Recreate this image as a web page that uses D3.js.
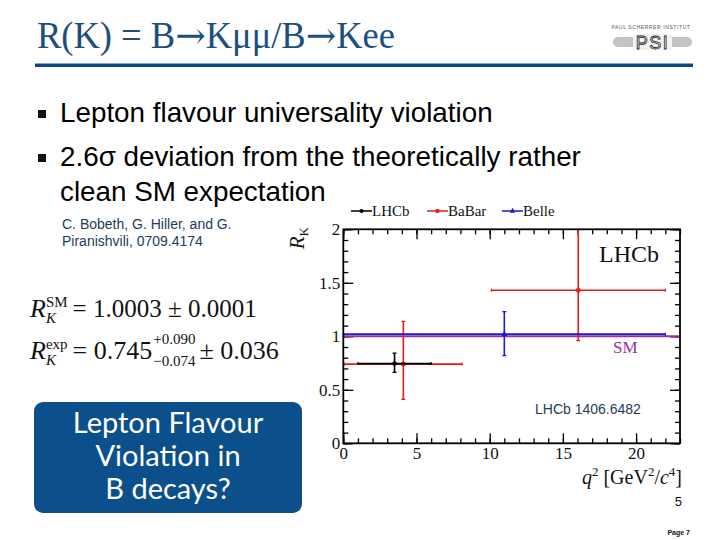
<!DOCTYPE html>
<html><head><meta charset="utf-8">
<script src="https://cdn.jsdelivr.net/npm/d3@7"></script>
<style>body{margin:0;background:#fff}svg{display:block}</style>
</head><body>
<svg id="c" width="720" height="540"></svg>
<script>
// ---------- data ----------
const seriesNames = ["LHCb", "BaBar", "Belle"];
const lhcbBins   = [[1, 6]];
const lhcbCentre = [3.5];
const lhcbRK     = [0.745];
const lhcbErrUp  = [0.097];
const lhcbErrDn  = [0.082];

const babarBins   = [[0.1, 8.12], [10.11, 22]];
const babarCentre = [4.1, 16.05];
const babarRK     = [0.74, 1.43];
const babarErrUp  = [0.40, 0.65];
const babarErrDn  = [0.33, 0.47];

const belleBins   = [[0, 22]];
const belleCentre = [11];
const belleRK     = [1.02];
const belleErrUp  = [0.21];
const belleErrDn  = [0.20];

const smRK = 1.0003;

const xMajorTicks = [0, 5, 10, 15, 20];
const xTickLabels = ["0", "5", "10", "15", "20"];
const yMajorTicks = [0, 0.5, 1, 1.5, 2];
const yTickLabels = ["0", "0.5", "1", "1.5", "2"];
const xMinorTicks = d3.range(0, 24, 1);
const yMinorTicks = d3.range(0, 21, 1).map(d => d / 10);

// ---------- styles ----------
const seriesColors = {LHCb: "#000000", BaBar: "#e41b1b", Belle: "#1b1bd0"};
const smColor = "#9a2fa0";
const navy = "#0c4a80";
const serif = "'Liberation Serif','Times New Roman',serif";
const sans = "'Liberation Sans',Arial,sans-serif";

const svg = d3.select("#c");
svg.append("rect").attr("width", 720).attr("height", 540).attr("fill", "#fff");

// ---------- slide header ----------
const title = svg.append("text").attr("x", 37).attr("y", 48)
  .attr("font-family", serif).attr("font-size", 37).attr("fill", "#1d4f7c")
  .attr("textLength", 358).attr("lengthAdjust", "spacingAndGlyphs");
[["R(K) = B", serif], ["→", "'DejaVu Serif',serif"], ["Kμμ/B", serif], ["→", "'DejaVu Serif',serif"], ["Kee", serif]]
  .forEach(([t, f]) => title.append("tspan").attr("font-family", f).text(t));
svg.append("rect").attr("x", 35).attr("y", 63.5).attr("width", 658).attr("height", 3.5).attr("fill", navy);

// PSI logo (approximate)
const logo = svg.append("g");
logo.append("text").attr("x", 651).attr("y", 29).attr("text-anchor", "middle")
  .attr("font-family", sans).attr("font-size", 5).attr("fill", "#555").attr("letter-spacing", 0.6)
  .text("PAUL SCHERRER INSTITUT");
logo.append("rect").attr("x", 613).attr("y", 37).attr("width", 79).attr("height", 10).attr("rx", 5).attr("fill", "#c4c4c4");
logo.append("rect").attr("x", 633).attr("y", 34).attr("width", 39).attr("height", 16).attr("fill", "#f2f2f2");
logo.append("text").attr("x", 652.5).attr("y", 48.5).attr("text-anchor", "middle")
  .attr("font-family", sans).attr("font-size", 18).attr("letter-spacing", 1.5)
  .attr("fill", "#f2f2f2").attr("stroke", "#222").attr("stroke-width", 0.8).text("PSI");

// ---------- bullets ----------
const bullets = [
  {y: 122, lines: ["Lepton flavour universality violation"]},
  {y: 166, lines: ["2.6σ deviation from the theoretically rather", "clean SM expectation"]}
];
bullets.forEach(b => {
  svg.append("rect").attr("x", 38).attr("y", b.y - 12).attr("width", 8).attr("height", 8).attr("fill", "#111");
  b.lines.forEach((l, i) => {
    svg.append("text").attr("x", 60).attr("y", b.y + i * 35)
      .attr("font-family", sans).attr("font-size", 27.8).attr("fill", "#000").text(l);
  });
});

// citation
["C. Bobeth, G. Hiller, and G.", "Piranishvili, 0709.4174"].forEach((l, i) => {
  svg.append("text").attr("x", 62).attr("y", 229 + i * 17)
    .attr("font-family", sans).attr("font-size", 14).attr("fill", "#1e3c58").text(l);
});

// ---------- formulas ----------
function formula(x0, y0, pieces) {
  let x = x0;
  pieces.forEach(p => {
    if (p.stack) {
      let w = 0;
      p.stack.forEach(s => {
        const t = svg.append("text").attr("x", x).attr("y", y0 + s.dy)
          .attr("font-family", serif).attr("font-size", s.size).attr("fill", "#111").text(s.t);
        if (s.italic) t.attr("font-style", "italic");
        w = Math.max(w, t.node().getComputedTextLength());
      });
      x += w + (p.gap || 0);
    } else {
      const t = svg.append("text").attr("x", x).attr("y", y0).attr("font-family", serif)
        .attr("font-size", p.size).attr("fill", "#111").text(p.t);
      if (p.italic) t.attr("font-style", "italic");
      x += t.node().getComputedTextLength() + (p.gap || 0);
    }
  });
}
formula(30, 317, [
  {t: "R", size: 26, italic: true, gap: 0},
  {stack: [{t: "SM", size: 15, dy: -10}, {t: "K", size: 15, dy: 6, italic: true}], gap: 5},
  {t: "= 1.0003 ± 0.0001", size: 25}
]);
formula(30, 359, [
  {t: "R", size: 26, italic: true, gap: 0},
  {stack: [{t: "exp", size: 15, dy: -10}, {t: "K", size: 15, dy: 6, italic: true}], gap: 5},
  {t: "= 0.745", size: 26, gap: 1},
  {stack: [{t: "+0.090", size: 15, dy: -15}, {t: "−0.074", size: 15, dy: 7}], gap: 4},
  {t: "± 0.036", size: 26}
]);

// ---------- blue box ----------
svg.append("rect").attr("x", 34).attr("y", 402).attr("width", 268).attr("height", 111)
  .attr("rx", 9).attr("fill", "#0b4f8b");
["Lepton Flavour", "Violation in", "B decays?"].forEach((l, i) => {
  svg.append("text").attr("x", 168).attr("y", 433 + i * 33).attr("text-anchor", "middle")
    .attr("font-family", "Lato,'Open Sans',sans-serif").attr("font-size", 29).attr("fill", "#fff").text(l);
});

// ---------- chart ----------
const x0 = 343.3, x1 = 680, yTop = 229.3, yBot = 443.3;
const x = d3.scaleLinear().domain([0, 23]).range([x0, x1]);
const y = d3.scaleLinear().domain([0, 2]).range([yBot, yTop]);

svg.append("defs").append("clipPath").attr("id", "plotclip")
  .append("rect").attr("x", x0).attr("y", yTop).attr("width", x1 - x0).attr("height", yBot - yTop);

const axisStyle = g => {
  g.select(".domain").remove();
  g.selectAll("line").attr("stroke", "#000").attr("stroke-width", 1.3);
  g.selectAll("text").attr("font-family", serif).attr("font-size", 17).attr("fill", "#111");
};
// minor ticks
svg.append("g").attr("transform", `translate(0,${yBot})`)
  .call(d3.axisBottom(x).tickValues(xMinorTicks).tickSize(-5).tickFormat("")).call(axisStyle);
svg.append("g").attr("transform", `translate(0,${yTop})`)
  .call(d3.axisTop(x).tickValues(xMinorTicks).tickSize(-5).tickFormat("")).call(axisStyle);
svg.append("g").attr("transform", `translate(${x0},0)`)
  .call(d3.axisLeft(y).tickValues(yMinorTicks).tickSize(-5).tickFormat("")).call(axisStyle);
svg.append("g").attr("transform", `translate(${x1},0)`)
  .call(d3.axisRight(y).tickValues(yMinorTicks).tickSize(-5).tickFormat("")).call(axisStyle);
// major ticks
svg.append("g").attr("transform", `translate(0,${yBot})`)
  .call(d3.axisBottom(x).tickValues(xMajorTicks).tickSize(-10).tickPadding(4)
    .tickFormat((d, i) => xTickLabels[i])).call(axisStyle);
svg.append("g").attr("transform", `translate(0,${yTop})`)
  .call(d3.axisTop(x).tickValues(xMajorTicks).tickSize(-10).tickFormat("")).call(axisStyle);
svg.append("g").attr("transform", `translate(${x0},0)`)
  .call(d3.axisLeft(y).tickValues(yMajorTicks).tickSize(-10).tickPadding(3)
    .tickFormat((d, i) => yTickLabels[i])).call(axisStyle);
svg.append("g").attr("transform", `translate(${x1},0)`)
  .call(d3.axisRight(y).tickValues(yMajorTicks).tickSize(-10).tickFormat("")).call(axisStyle);

// SM line
const plot = svg.append("g").attr("clip-path", "url(#plotclip)");
plot.append("line").attr("x1", x(0)).attr("x2", x(23)).attr("y1", y(smRK)).attr("y2", y(smRK))
  .attr("stroke", smColor).attr("stroke-width", 2.2);

function drawSeries(name, bins, centre, rk, up, dn, marker) {
  const c = seriesColors[name];
  const g = plot.append("g");
  centre.forEach((cx, i) => {
    g.append("line").attr("x1", x(bins[i][0])).attr("x2", x(bins[i][1]))
      .attr("y1", y(rk[i])).attr("y2", y(rk[i])).attr("stroke", c).attr("stroke-width", 1.6);
    g.append("line").attr("x1", x(cx)).attr("x2", x(cx))
      .attr("y1", y(rk[i] + up[i])).attr("y2", y(rk[i] - dn[i])).attr("stroke", c).attr("stroke-width", 1.6);
    [rk[i] + up[i], rk[i] - dn[i]].forEach(v => {
      g.append("line").attr("x1", x(cx) - 2).attr("x2", x(cx) + 2)
        .attr("y1", y(v)).attr("y2", y(v)).attr("stroke", c).attr("stroke-width", 1.3);
    });
    [bins[i][0], bins[i][1]].forEach(v => {
      g.append("line").attr("x1", x(v)).attr("x2", x(v))
        .attr("y1", y(rk[i]) - 1.5).attr("y2", y(rk[i]) + 1.5).attr("stroke", c).attr("stroke-width", 1.2);
    });
    g.append("path").attr("transform", `translate(${x(cx)},${y(rk[i])})`)
      .attr("d", d3.symbol().type(marker).size(16)()).attr("fill", c);
  });
}
drawSeries("BaBar", babarBins, babarCentre, babarRK, babarErrUp, babarErrDn, d3.symbolSquare);
drawSeries("Belle", belleBins, belleCentre, belleRK, belleErrUp, belleErrDn, d3.symbolTriangle);
drawSeries("LHCb", lhcbBins, lhcbCentre, lhcbRK, lhcbErrUp, lhcbErrDn, d3.symbolCircle);

// frame
svg.append("rect").attr("x", x0).attr("y", yTop).attr("width", x1 - x0).attr("height", yBot - yTop)
  .attr("fill", "none").attr("stroke", "#000").attr("stroke-width", 1.8);

// legend
const legendX = [351, 427, 502];
const markers = [d3.symbolCircle, d3.symbolSquare, d3.symbolTriangle];
seriesNames.forEach((n, i) => {
  const g = svg.append("g").attr("transform", `translate(${legendX[i]},211)`);
  g.append("line").attr("x1", 0).attr("x2", 21).attr("stroke", seriesColors[n]).attr("stroke-width", 1.5);
  g.append("path").attr("transform", "translate(10.5,0)").attr("d", d3.symbol().type(markers[i]).size(14)())
    .attr("fill", seriesColors[n]);
  g.append("text").attr("x", 21).attr("y", 5).attr("font-family", serif).attr("font-size", 15)
    .attr("fill", "#111").text(n);
});

// y label R_K
const yl = svg.append("text").attr("transform", "translate(304,227) rotate(-90)")
  .attr("text-anchor", "end").attr("font-family", serif).attr("fill", "#111");
yl.append("tspan").attr("font-size", 21).attr("font-style", "italic").text("R");
yl.append("tspan").attr("font-size", 13).attr("dy", 4).text("K");

// in-plot labels
svg.append("text").attr("x", 599).attr("y", 262).attr("font-family", serif).attr("font-size", 24)
  .attr("fill", "#111").text("LHCb");
svg.append("text").attr("x", 613).attr("y", 353).attr("font-family", serif).attr("font-size", 17)
  .attr("fill", smColor).text("SM");
svg.append("text").attr("x", 535).attr("y", 414).attr("font-family", sans).attr("font-size", 14)
  .attr("fill", "#1e3c58").text("LHCb 1406.6482");

// x label
const xl = svg.append("text").attr("x", 682).attr("y", 484).attr("text-anchor", "end")
  .attr("font-family", serif).attr("font-size", 20).attr("fill", "#111");
xl.append("tspan").attr("font-style", "italic").text("q");
xl.append("tspan").attr("font-size", 13).attr("dy", -8).text("2");
xl.append("tspan").attr("dy", 8).text(" [GeV");
xl.append("tspan").attr("font-size", 13).attr("dy", -8).text("2");
xl.append("tspan").attr("dy", 8).text("/");
xl.append("tspan").attr("font-style", "italic").text("c");
xl.append("tspan").attr("font-size", 13).attr("dy", -8).text("4");
xl.append("tspan").attr("dy", 8).text("]");

// page numbers
svg.append("text").attr("x", 682).attr("y", 506).attr("text-anchor", "end")
  .attr("font-family", sans).attr("font-size", 13).attr("fill", "#111").text("5");
svg.append("text").attr("x", 690).attr("y", 535).attr("text-anchor", "end")
  .attr("font-family", sans).attr("font-size", 7).attr("font-weight", "bold").attr("fill", "#111").text("Page 7");
</script>
</body></html>
